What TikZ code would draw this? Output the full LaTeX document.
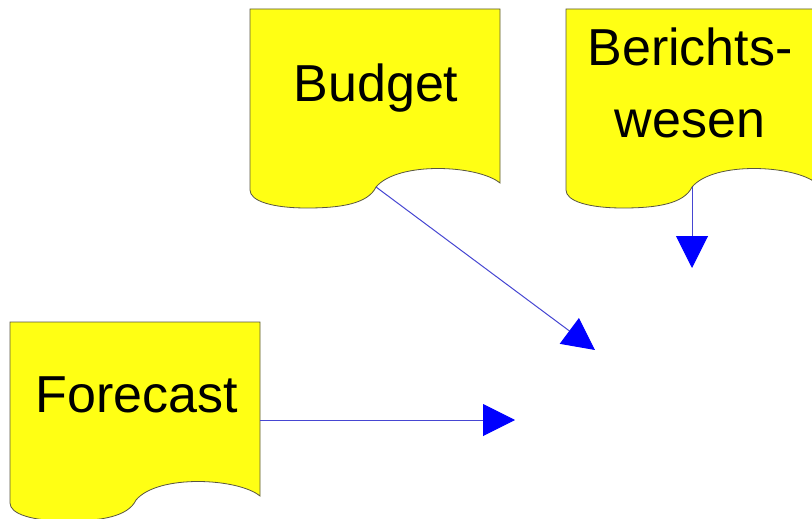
\documentclass[tikz,border=0pt]{standalone}
\usepackage{fontspec}
\setmainfont{Liberation Sans}
\usetikzlibrary{arrows.meta}
\tikzset{
  docshape/.style={fill={rgb,255:red,255;green,255;blue,20}, draw=black!75!yellow, line width=0.8pt},
  doctext/.style={font=\fontsize{52}{72}\selectfont, align=center, inner sep=0pt, anchor=base},
  flow/.style={draw={rgb,255:red,70;green,70;blue,210}, line width=1pt,
    -{Triangle[length=32pt,width=32pt,color=blue]}},
  docu/.pic={
    \path[docshape] (0,0) -- (250,0) -- (250,174)
      .. controls (228,156) and (148,152) .. (126,178)
      .. controls (118,195) and (90,199) .. (57,199)
      .. controls (22,199) and (0,192) .. (0,181) -- cycle;
    \coordinate (-cusp) at (126,178);
    \coordinate (-east) at (250,98);
  }
}
\begin{document}
\begin{tikzpicture}[x=1pt,y=-1pt]
  \clip (0,0) rectangle (812,519);
  \fill[white] (0,0) rectangle (812,519);
  \pic (bud) at (250,9) {docu};
  \pic (ber) at (566,9) {docu};
  \pic (fc) at (10,322) {docu};
  \node[doctext] (budtxt) at (376,102) {Budget};
  \node[doctext] (bertxt) at (690,137) {Berichts-\\wesen};
  \node[doctext] (fctxt) at (137,412) {Forecast};
  \coordinate (t1) at (595,350);
  \coordinate (t2) at (692,268);
  \coordinate (t3) at (515,420);
  \draw[flow] (bud-cusp) -- (t1);
  \draw[flow] (ber-cusp) -- (t2);
  \draw[flow] (fc-east) -- (t3);
\end{tikzpicture}
\end{document}
